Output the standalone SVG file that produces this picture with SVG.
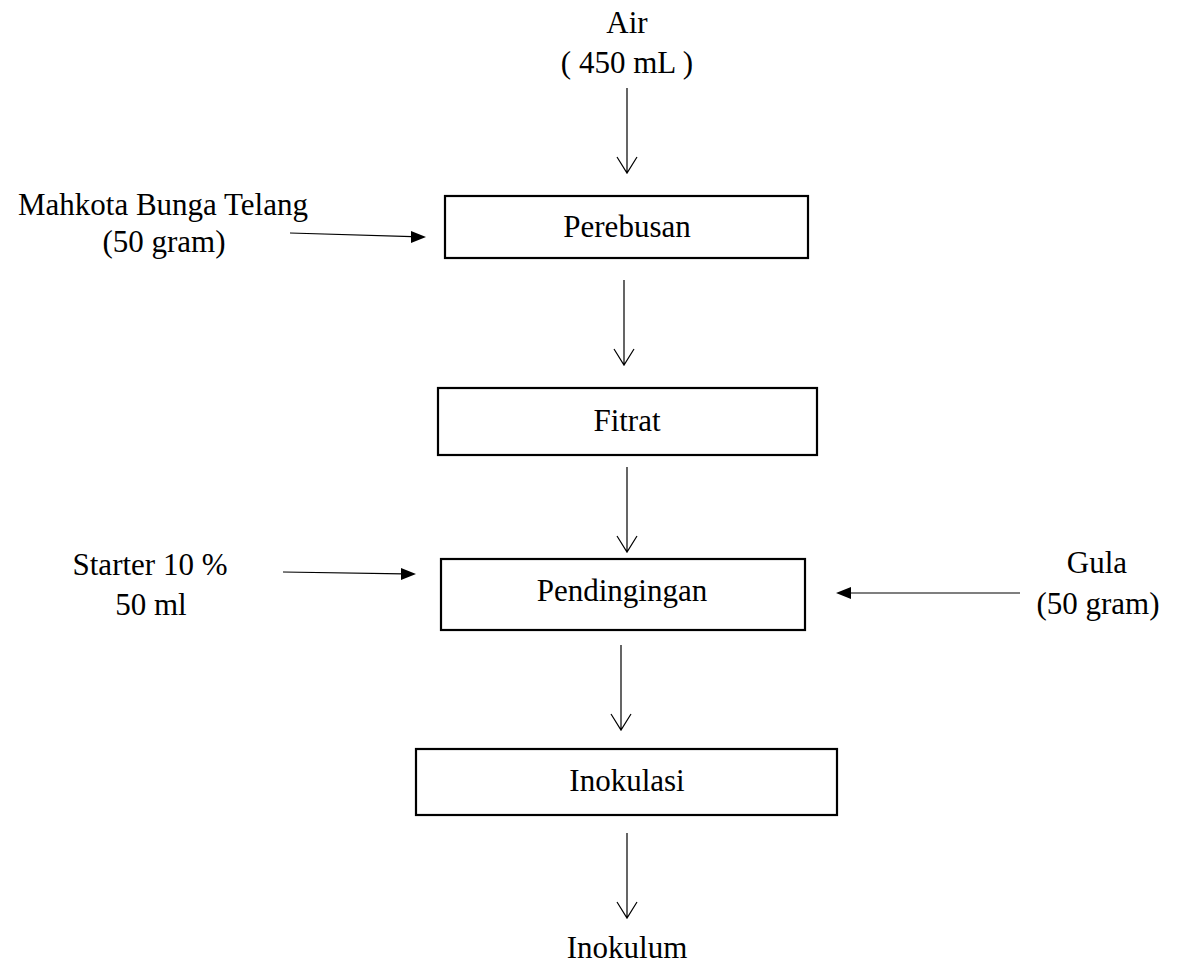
<svg xmlns="http://www.w3.org/2000/svg" width="1177" height="967" viewBox="0 0 1177 967">
  <style>
    text { font-family: "Liberation Serif", "Times New Roman", serif; font-size: 31px; fill: #000; }
    .c { text-anchor: middle; }
    .box { fill: #fff; stroke: #000; stroke-width: 2.2; }
    .v { stroke: #000; stroke-width: 1.2; fill: none; }
    .h { stroke: #000; stroke-width: 1.2; fill: none; }
    .tri { fill: #000; }
  </style>
  <rect width="1177" height="967" fill="#fff"/>

  <!-- input labels -->
  <g id="air">
    <text class="c" x="627" y="33">Air</text>
    <text class="c" x="627" y="73">( 450 mL )</text>
  </g>
  <g id="mahkota">
    <text class="c" x="163" y="215">Mahkota Bunga Telang</text>
    <text class="c" x="164" y="252">(50 gram)</text>
  </g>
  <g id="starter">
    <text class="c" x="150" y="575">Starter 10 %</text>
    <text class="c" x="151" y="615">50 ml</text>
  </g>
  <g id="gula">
    <text class="c" x="1097" y="573">Gula</text>
    <text class="c" x="1098" y="614">(50 gram)</text>
  </g>

  <!-- process boxes -->
  <g id="perebusan">
    <rect class="box" x="445" y="196" width="363" height="62"/>
    <text class="c" x="627" y="237">Perebusan</text>
  </g>
  <g id="fitrat">
    <rect class="box" x="438" y="388" width="379" height="67"/>
    <text class="c" x="627" y="431">Fitrat</text>
  </g>
  <g id="pendinginan">
    <rect class="box" x="441" y="559" width="364" height="71"/>
    <text class="c" x="622" y="601">Pendingingan</text>
  </g>
  <g id="inokulasi">
    <rect class="box" x="416" y="749" width="421" height="66"/>
    <text class="c" x="627" y="791">Inokulasi</text>
  </g>
  <g id="inokulum">
    <text class="c" x="627" y="958">Inokulum</text>
  </g>

  <!-- connectors -->
  <g id="connectors">
    <!-- vertical flow arrows with open heads -->
    <path class="v" d="M627 88 V173 M617 157 L627 173 L637 157"/>
    <path class="v" d="M624 280 V365 M614 349 L624 365 L634 349"/>
    <path class="v" d="M627 467 V552 M617 536 L627 552 L637 536"/>
    <path class="v" d="M621 645 V730 M611 714 L621 730 L631 714"/>
    <path class="v" d="M627 833 V918 M617 902 L627 918 L637 902"/>

    <!-- horizontal input arrows with filled heads -->
    <path class="h" d="M290 233 L412 236.7"/>
    <polygon class="tri" points="426,237 411,231 411,243"/>
    <path class="h" d="M283 572 L403 573.8"/>
    <polygon class="tri" points="416,574 401,568 401,580"/>
    <path class="h" d="M1020 593 L850 593"/>
    <polygon class="tri" points="836,593 851,587 851,599"/>
  </g>
</svg>
